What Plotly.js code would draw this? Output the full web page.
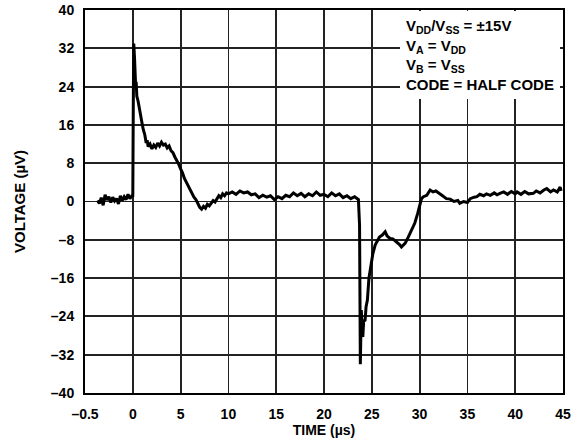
<!DOCTYPE html>
<html>
<head>
<meta charset="utf-8">
<script src="https://cdn.plot.ly/plotly-3.0.1.min.js"></script>
<style>html,body{margin:0;padding:0;background:#fff;}#chart{width:583px;height:444px;}</style>
</head>
<body>
<div id="chart"></div>
<script>
// Time (µs)
const timeUs = [
  -3.7,-3.5,-3.3,-3.1,-2.9,-2.7,-2.5,-2.3,-2.1,-1.9,-1.7,-1.5,-1.3,-1.1,-0.9,-0.7,-0.5,-0.3,-0.1,0.0,
  0.05,0.1,0.18,0.25,0.3,0.35,0.42,0.55,0.7,0.85,1.0,1.1,1.25,1.4,1.5,1.6,1.8,2.0,2.2,2.4,2.6,2.8,3.0,3.2,3.4,3.6,3.8,
  4.0,4.2,4.4,4.6,4.8,5.0,5.2,5.4,5.6,5.8,6.0,6.2,6.4,6.6,6.8,7.0,7.2,7.4,7.6,7.8,8.0,8.2,8.4,8.6,8.8,9.0,9.2,9.4,9.6,9.8,
  10.0,10.4,10.8,11.2,11.6,12.0,12.4,12.8,13.2,13.6,14.0,14.4,14.8,15.2,15.6,16.0,16.4,16.8,17.2,17.6,18.0,18.4,18.8,
  19.2,19.6,20.0,20.4,20.8,21.2,21.6,22.0,22.4,22.8,23.2,23.6,
  23.72,23.8,23.9,24.0,24.06,24.15,24.3,24.4,24.54,24.7,24.9,25.1,25.35,25.6,25.8,26.1,26.4,26.6,26.9,27.2,27.6,27.9,
  28.1,28.3,28.5,28.8,29.0,29.3,29.5,29.8,30.05,30.2,30.4,30.75,31.1,31.4,31.7,32.1,32.4,32.8,33.2,33.6,34.0,34.2,34.6,
  35.0,35.3,35.7,36.0,36.3,36.7,37.0,37.4,37.8,38.1,38.4,38.8,39.2,39.6,40.0,40.2,40.6,41.0,41.4,41.9,42.2,42.6,43.0,
  43.3,43.7,44.0,44.4,44.7,44.8
];
// Voltage (µV)
const voltageUv = [
  0.2,-0.4,0.8,-0.8,1.4,0.3,1.0,-0.2,0.9,0.1,0.6,-0.5,1.2,0.2,1.0,0.4,1.5,0.6,1.2,1.0,
  20,33,30,26,24,25,22,21,19,17.5,16,15,14,12.2,12.8,11.5,12,11,11.8,11.3,12.2,11.6,12.4,11.8,12.0,11.2,11.6,
  10.6,10.2,9.3,8.6,7.8,6.8,6.0,4.8,4.0,3.0,2.4,1.4,0.9,0.4,-0.6,-1.2,-1.6,-1.0,-1.4,-0.6,-0.9,-0.2,0.2,-0.1,0.6,1.2,0.8,1.6,1.2,1.8,
  1.6,2.0,1.5,2.2,1.8,2.0,1.4,1.6,0.8,1.3,0.9,1.2,0.4,1.0,0.6,1.3,1.0,1.8,1.2,1.7,1.0,1.6,1.2,
  2.0,1.3,1.5,1.0,1.8,1.2,1.6,0.8,1.2,0.6,1.0,0.4,
  -5,-34,-22.7,-27,-28.3,-25,-24.8,-22,-20.6,-16,-13,-11,-9.1,-8,-7.4,-7.0,-6.3,-7.2,-7.7,-7.8,-8.4,-9.0,
  -9.5,-9.0,-8.7,-7.5,-6.6,-5.6,-4.5,-2.5,-0.4,0.6,1.0,1.3,2.4,2.0,2.2,1.7,1.2,0.6,0.5,0.0,0.2,-0.4,0.0,
  -0.2,0.6,0.9,1.0,1.5,1.2,1.6,1.3,1.8,1.4,1.7,2.0,1.5,2.1,1.6,2.0,1.5,2.1,1.6,1.7,2.2,1.8,2.4,
  2.7,2.0,2.4,2.0,3.0,2.2
];
const xTickVals = [-5,0,5,10,15,20,25,30,35,40,45];
const xTickText = ['–0.5','0','5','10','15','20','25','30','35','40','45'];
const yTickVals = [-40,-32,-24,-16,-8,0,8,16,24,32,40];
const yTickText = ['–40','–32','–24','–16','–8','0','8','16','24','32','40'];
const noteText = 'V<sub>DD</sub>/V<sub>SS</sub> = ±15V<br>V<sub>A</sub> = V<sub>DD</sub><br>V<sub>B</sub> = V<sub>SS</sub><br>CODE = HALF CODE';

const fontFam = 'Liberation Sans, Arial, sans-serif';
const trace = {
  x: timeUs, y: voltageUv, type: 'scatter', mode: 'lines',
  line: {color: '#000', width: 3}, hoverinfo: 'skip'
};
const layout = {
  width: 583, height: 444,
  margin: {l: 85, r: 20, t: 10, b: 51},
  paper_bgcolor: '#fff', plot_bgcolor: '#fff',
  showlegend: false,
  font: {family: fontFam, color: '#000', size: 14, weight: 700},
  xaxis: {
    range: [-5, 45], tickmode: 'array', tickvals: xTickVals, ticktext: xTickText,
    showgrid: true, gridcolor: '#222', gridwidth: 1.8, zeroline: false,
    showline: true, mirror: true, linecolor: '#000', linewidth: 2,
    ticks: '', ticklabelstandoff: 7,
    tickfont: {family: fontFam, size: 14, weight: 700, color: '#000'},
    title: {text: 'TIME (µs)', font: {family: fontFam, size: 14, weight: 700, color: '#000'}, standoff: 3}
  },
  yaxis: {
    range: [-40, 40], tickmode: 'array', tickvals: yTickVals, ticktext: yTickText,
    showgrid: true, gridcolor: '#222', gridwidth: 1.8, zeroline: false,
    showline: true, mirror: true, linecolor: '#000', linewidth: 2,
    ticks: '', ticklabelstandoff: 6,
    tickfont: {family: fontFam, size: 14, weight: 700, color: '#000'},
    title: {text: 'VOLTAGE (µV)', font: {family: fontFam, size: 15, weight: 700, color: '#000'}, standoff: 22}
  },
  annotations: [{
    xref: 'paper', yref: 'paper', x: 1, y: 1, xanchor: 'right', yanchor: 'top',
    xshift: -3, yshift: -1,
    text: noteText, showarrow: false, align: 'left',
    bgcolor: '#fff', borderpad: 6, borderwidth: 0,
    font: {family: fontFam, size: 15, weight: 700, color: '#000'}
  }]
};
Plotly.newPlot('chart', [trace], layout, {staticPlot: true, displayModeBar: false});
</script>
</body>
</html>
